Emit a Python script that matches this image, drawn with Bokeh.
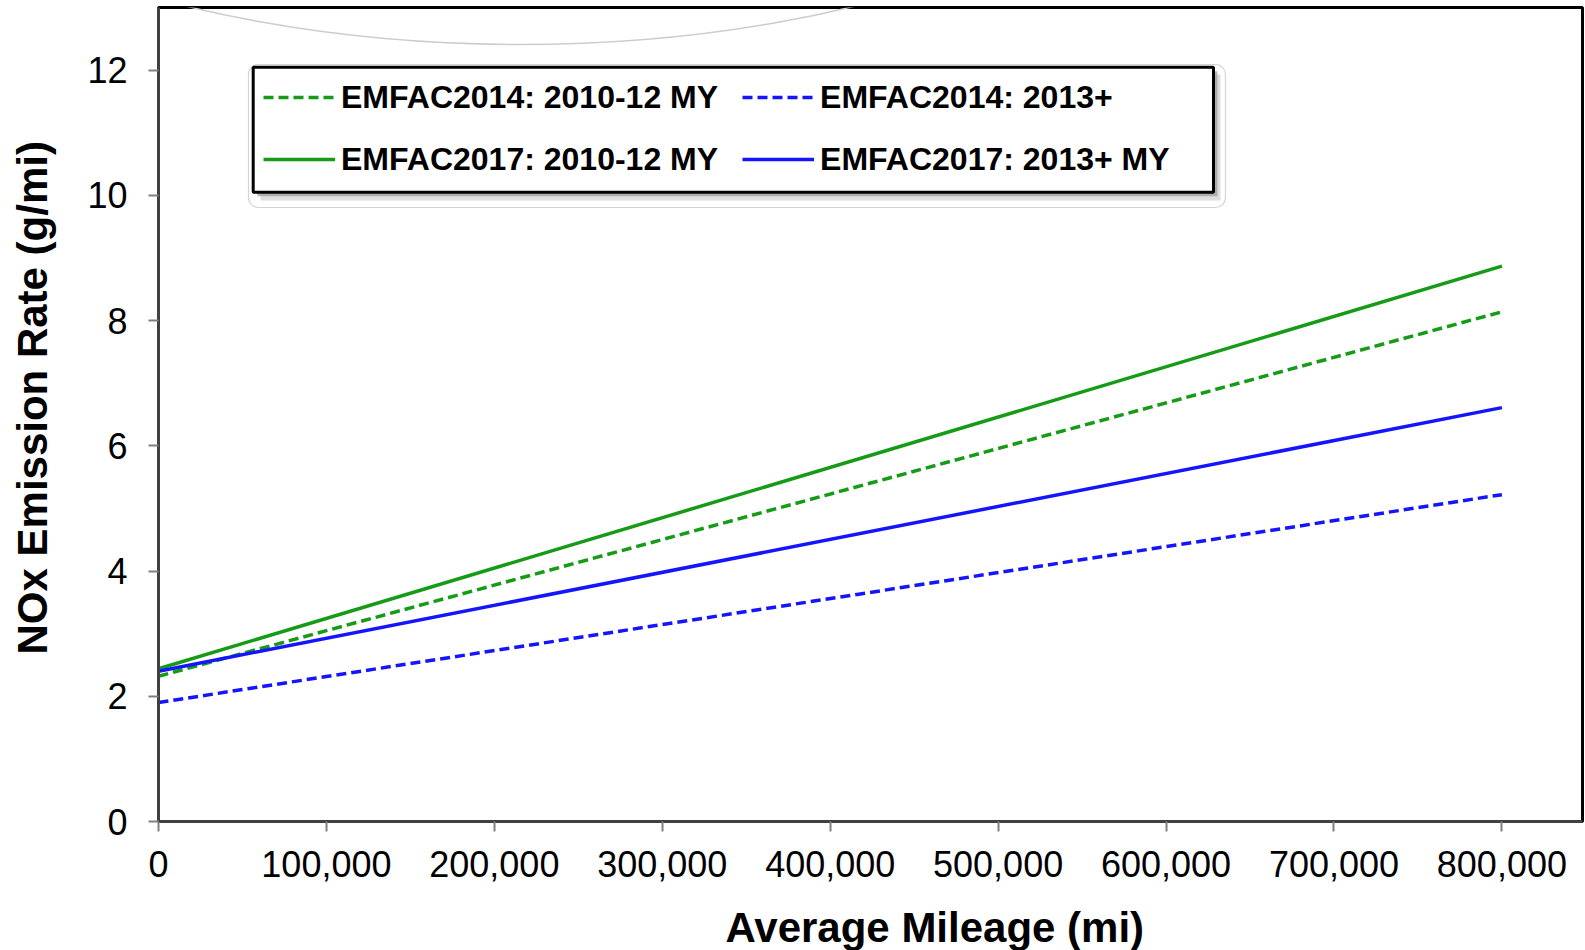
from bokeh.plotting import figure
from bokeh.models import (Legend, LegendItem, Title, NumeralTickFormatter,
                          FixedTicker, BoxAnnotation, Range1d, LinearAxis)
from bokeh.embed import file_html
from bokeh.resources import INLINE

# ---- data ----
mileage = [0, 800000]
emfac2014_2010_12 = [2.32, 8.14]
emfac2014_2013 = [1.90, 5.22]
emfac2017_2010_12 = [2.44, 8.87]
emfac2017_2013 = [2.40, 6.61]

labels = ["EMFAC2014: 2010-12 MY", "EMFAC2014: 2013+",
          "EMFAC2017: 2010-12 MY", "EMFAC2017: 2013+ MY"]
x_ticks = [0, 100000, 200000, 300000, 400000, 500000, 600000, 700000, 800000]
y_ticks = [0, 2, 4, 6, 8, 10, 12]

GREEN = "#169b16"
BLUE = "#1414ff"
FONT = "Liberation Sans"

p = figure(width=1585, height=950, output_backend="svg", toolbar_location=None,
           x_range=Range1d(0, 848000), y_range=Range1d(0, 13),
           min_border_left=158, min_border_right=3, min_border_top=7,
           min_border_bottom=129)
p.background_fill_color = "white"
p.border_fill_color = "white"
p.grid.visible = False
p.outline_line_color = "black"
p.outline_line_width = 3

# faint decorative arc at the top (artifact in the reference)
p.ellipse(x=215570, y=17.456, width=833700, height=10.094, fill_alpha=0,
          line_color="#cccccc", line_width=1.5)

# legend frame decorations: outer soft frame, shadow, black box
p.add_layout(BoxAnnotation(left=53600, right=635400, top=12.09, bottom=9.806,
                           fill_color="white", fill_alpha=1.0,
                           line_color="#d4d4d4", line_alpha=1.0, line_width=1.2,
                           border_radius=10))
p.add_layout(BoxAnnotation(left=60740, right=632420, top=11.93, bottom=9.918,
                           fill_color="#c8c8c8", fill_alpha=0.6, line_alpha=0))
p.add_layout(BoxAnnotation(left=58770, right=630630, top=11.983, bottom=9.986,
                           fill_color="#8c8c8c", fill_alpha=0.6, line_alpha=0))
p.add_layout(BoxAnnotation(left=56390, right=628250, top=12.047, bottom=10.05,
                           fill_color="white", fill_alpha=1.0,
                           line_color="black", line_alpha=1.0, line_width=3))

r1 = p.line(mileage, emfac2014_2010_12, line_color=GREEN, line_width=3.5, line_dash="10 5")
r2 = p.line(mileage, emfac2014_2013, line_color=BLUE, line_width=3.5, line_dash="10 5")
r3 = p.line(mileage, emfac2017_2010_12, line_color=GREEN, line_width=3.5)
r4 = p.line(mileage, emfac2017_2013, line_color=BLUE, line_width=3.5)

legend = Legend(items=[LegendItem(label=labels[0], renderers=[r1]),
                       LegendItem(label=labels[2], renderers=[r3]),
                       LegendItem(label=labels[1], renderers=[r2]),
                       LegendItem(label=labels[3], renderers=[r4])],
                ncols=2, location=(92, 630), margin=0, padding=13,
                spacing=24, glyph_width=72, glyph_height=38, label_height=38,
                label_standoff=6,
                label_text_font=FONT, label_text_font_size="32px",
                label_text_font_style="bold", label_text_color="black",
                border_line_alpha=0, background_fill_alpha=0)
p.add_layout(legend, "center")

# axes
for ax in (p.xaxis[0], p.yaxis[0]):
    ax.axis_line_color = "#404040"
    ax.axis_line_width = 3
    ax.major_tick_in = 0
    ax.major_tick_out = 10
    ax.major_tick_line_color = "#808080"
    ax.major_tick_line_width = 2
    ax.minor_tick_in = 0
    ax.minor_tick_out = 0
    ax.major_label_text_font = FONT
    ax.major_label_text_color = "black"

p.xaxis.ticker = FixedTicker(ticks=x_ticks)
p.xaxis.formatter = NumeralTickFormatter(format="0,0")
p.xaxis.major_label_text_font_size = "36px"
p.xaxis.major_label_standoff = 19
p.yaxis.ticker = FixedTicker(ticks=y_ticks)
p.yaxis.major_label_text_font_size = "36px"
p.yaxis.major_label_standoff = 21


def spacer_axis(size, at):
    # blank axis (one white tick, no label) used only as spacing before the axis title
    return LinearAxis(ticker=FixedTicker(ticks=[at]), axis_line_alpha=0,
                      major_tick_in=0, major_tick_out=size,
                      major_tick_line_color="white", major_tick_line_width=1,
                      minor_tick_in=0, minor_tick_out=0,
                      major_label_standoff=0, major_label_text_font_size="0px",
                      major_label_overrides={at: ""})


p.add_layout(spacer_axis(22, 845000), "below")
p.add_layout(spacer_axis(27, 12.95), "left")

p.add_layout(Title(text="Average Mileage (mi)", align="left", offset=567,
                   standoff=0, text_font=FONT, text_font_size="42px",
                   text_font_style="bold", text_color="black"), "below")
p.add_layout(Title(text="NOx Emission Rate (g/mi)", align="left", offset=167,
                   standoff=4, text_font=FONT, text_font_size="42px",
                   text_font_style="bold", text_color="black"), "left")

open("out.html", "w").write(file_html(p, INLINE))
